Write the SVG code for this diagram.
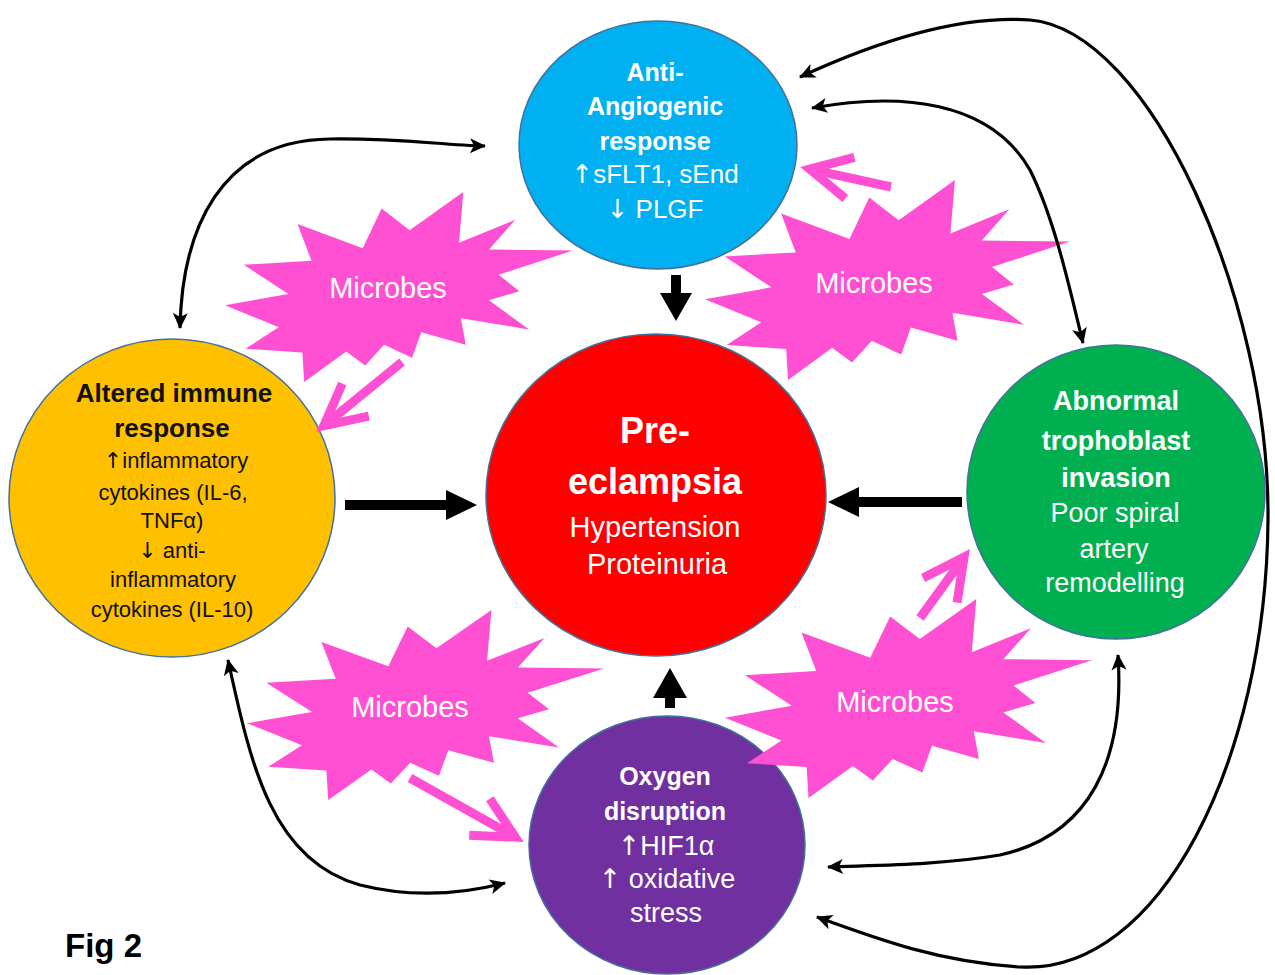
<svg xmlns="http://www.w3.org/2000/svg" xmlns:xlink="http://www.w3.org/1999/xlink" width="1275" height="975" viewBox="0 0 1275 975">
<style>
.t{font-family:"Liberation Sans",Arial,sans-serif;text-anchor:middle}
.b{font-weight:bold}
.w{fill:#ffffff}
.k{fill:#111111}
.ar{font-family:"DejaVu Sans",sans-serif}
.circ{stroke:#41719c;stroke-width:1.5}
.burst{fill:#ff4fd3;stroke:#4f81bd;stroke-width:1.8;vector-effect:non-scaling-stroke;stroke-linejoin:miter}
.thin{fill:none;stroke:#000;stroke-width:3.2;marker-start:url(#bk);marker-end:url(#bk)}
.pink{fill:none;stroke:#ff4fd3;stroke-width:9;marker-end:url(#pk)}
.mic{font-size:29px}
</style>
<defs>
<polygon id="burstShape" points="11462,4342 14790,0 14525,5777 18007,3172 16380,6532 21600,6645 16985,9402 18270,11290 16380,12310 18877,15632 14640,14350 14942,17370 12180,15935 11612,18842 9872,17370 8700,19712 7527,18125 4917,21600 4805,18240 1285,17825 3330,15370 0,12877 3935,11592 1172,8270 5372,7817 4502,3625 8550,6382 9722,1887"/>
<marker id="pk" markerUnits="userSpaceOnUse" viewBox="-50 -30 65 60" markerWidth="65" markerHeight="60" refX="0" refY="0" orient="auto">
<path d="M-41,-21 L0,0 L-41,21" fill="none" stroke="#ff4fd3" stroke-width="9" stroke-linejoin="miter"/>
</marker>
<marker id="bk" markerUnits="userSpaceOnUse" viewBox="-17 -9 19 18" markerWidth="19" markerHeight="18" refX="0" refY="0" orient="auto-start-reverse">
<path d="M1,0 L-15,-7.5 L-11,0 L-15,7.5 z" fill="#000"/>
</marker>
</defs>
<rect width="1275" height="975" fill="#ffffff"/>

<g id="node-antiangiogenic">
<ellipse class="circ" cx="658" cy="145" rx="139" ry="124" fill="#00b0f0"/>
<text class="t b w" x="655" y="81" font-size="25">Anti-</text>
<text class="t b w" x="655" y="115" font-size="25">Angiogenic</text>
<text class="t b w" x="655" y="150" font-size="25">response</text>
<text class="t w" x="655" y="183" font-size="26"><tspan class="ar">↑</tspan>sFLT1, sEnd</text>
<text class="t w" x="655" y="218" font-size="26"><tspan class="ar">↓</tspan> PLGF</text>
</g>

<g id="node-preeclampsia">
<ellipse class="circ" cx="656" cy="495" rx="170" ry="161" fill="#ff0000"/>
<text class="t b w" x="655" y="443" font-size="36">Pre-</text>
<text class="t b w" x="655" y="494" font-size="36">eclampsia</text>
<text class="t w" x="655" y="537" font-size="29">Hypertension</text>
<text class="t w" x="657" y="574" font-size="29">Proteinuria</text>
</g>

<g id="node-immune">
<ellipse class="circ" cx="172" cy="498" rx="163" ry="159" fill="#ffc000"/>
<text class="t b k" x="174" y="402" font-size="26">Altered immune</text>
<text class="t b k" x="172" y="437" font-size="26">response</text>
<text class="t k" x="176" y="468" font-size="22"><tspan class="ar">↑</tspan>inflammatory</text>
<text class="t k" x="173" y="500" font-size="22">cytokines (IL-6,</text>
<text class="t k" x="172" y="528" font-size="22">TNFα)</text>
<text class="t k" x="172" y="558" font-size="22"><tspan class="ar">↓</tspan> anti-</text>
<text class="t k" x="173" y="587" font-size="22">inflammatory</text>
<text class="t k" x="172" y="617" font-size="22">cytokines (IL-10)</text>
</g>

<g id="node-trophoblast">
<ellipse class="circ" cx="1116" cy="492" rx="149" ry="147" fill="#00b050"/>
<text class="t b w" x="1116" y="410" font-size="27">Abnormal</text>
<text class="t b w" x="1116" y="450" font-size="27">trophoblast</text>
<text class="t b w" x="1116" y="487" font-size="27">invasion</text>
<text class="t w" x="1115" y="522" font-size="27">Poor spiral</text>
<text class="t w" x="1114" y="558" font-size="27">artery</text>
<text class="t w" x="1115" y="592" font-size="27">remodelling</text>
</g>

<g id="node-oxygen">
<ellipse class="circ" cx="667" cy="845" rx="138" ry="129" fill="#7030a0"/>
<text class="t b w" x="665" y="785" font-size="25">Oxygen</text>
<text class="t b w" x="665" y="820" font-size="25">disruption</text>
<text class="t w" x="666" y="855" font-size="27"><tspan class="ar">↑</tspan>HIF1α</text>
<text class="t w" x="667" y="888" font-size="27"><tspan class="ar">↑</tspan> oxidative</text>
<text class="t w" x="666" y="922" font-size="27">stress</text>
</g>

<g id="node-microbes-1">
<use xlink:href="#burstShape" class="burst" transform="translate(225,192) scale(0.016111,0.0087963)"/>
<text class="t w mic" x="388" y="298">Microbes</text>
</g>
<g id="node-microbes-2">
<use xlink:href="#burstShape" class="burst" transform="translate(705,180) scale(0.016898,0.009259)"/>
<text class="t w mic" x="874" y="293">Microbes</text>
</g>
<g id="node-microbes-3">
<use xlink:href="#burstShape" class="burst" transform="translate(247,610) scale(0.016528,0.0087963)"/>
<text class="t w mic" x="410" y="717">Microbes</text>
</g>
<g id="node-microbes-4">
<use xlink:href="#burstShape" class="burst" transform="translate(725,599) scale(0.016991,0.009213)"/>
<text class="t w mic" x="895" y="712">Microbes</text>
</g>

<g id="connectors">
<polygon fill="#000" points="671,275 681,275 681,293 692,293 676,321 660,293 671,293"/>
<polygon fill="#000" points="345,500 446,500 446,490 477,505 446,520 446,510 345,510"/>
<polygon fill="#000" points="962,497 859,497 859,487 828,502 859,517 859,507 962,507"/>
<polygon fill="#000" points="665,708 675,708 675,698 687,698 670,668 653,698 665,698"/>
<path class="thin" d="M180,328 C182,230 220,140 330,139 C400,138 440,145 485,146"/>
<path class="thin" d="M800,77 C880,40 960,15 1030,20 C1150,30 1270,300 1268,520 C1266,760 1160,975 1020,967 C940,962 880,940 817,917"/>
<path class="thin" d="M812,108 C900,92 990,100 1030,170 C1055,220 1070,290 1083,343"/>
<path class="thin" d="M1118,655 C1125,760 1090,835 1000,855 C940,865 880,865 828,867"/>
<path class="thin" d="M228,660 C250,760 270,860 360,885 C420,900 470,892 505,883"/>
<path class="pink" d="M402,362 L323.8,425.7"/>
<path class="pink" d="M891,187 L809.8,169.1"/>
<path class="pink" d="M410,778 L515.3,837.1"/>
<path class="pink" d="M920,618 L964.1,557.1"/>
</g>

<text class="b" x="65" y="957" font-family="Liberation Sans, Arial, sans-serif" font-size="33" fill="#000">Fig 2</text>
</svg>
